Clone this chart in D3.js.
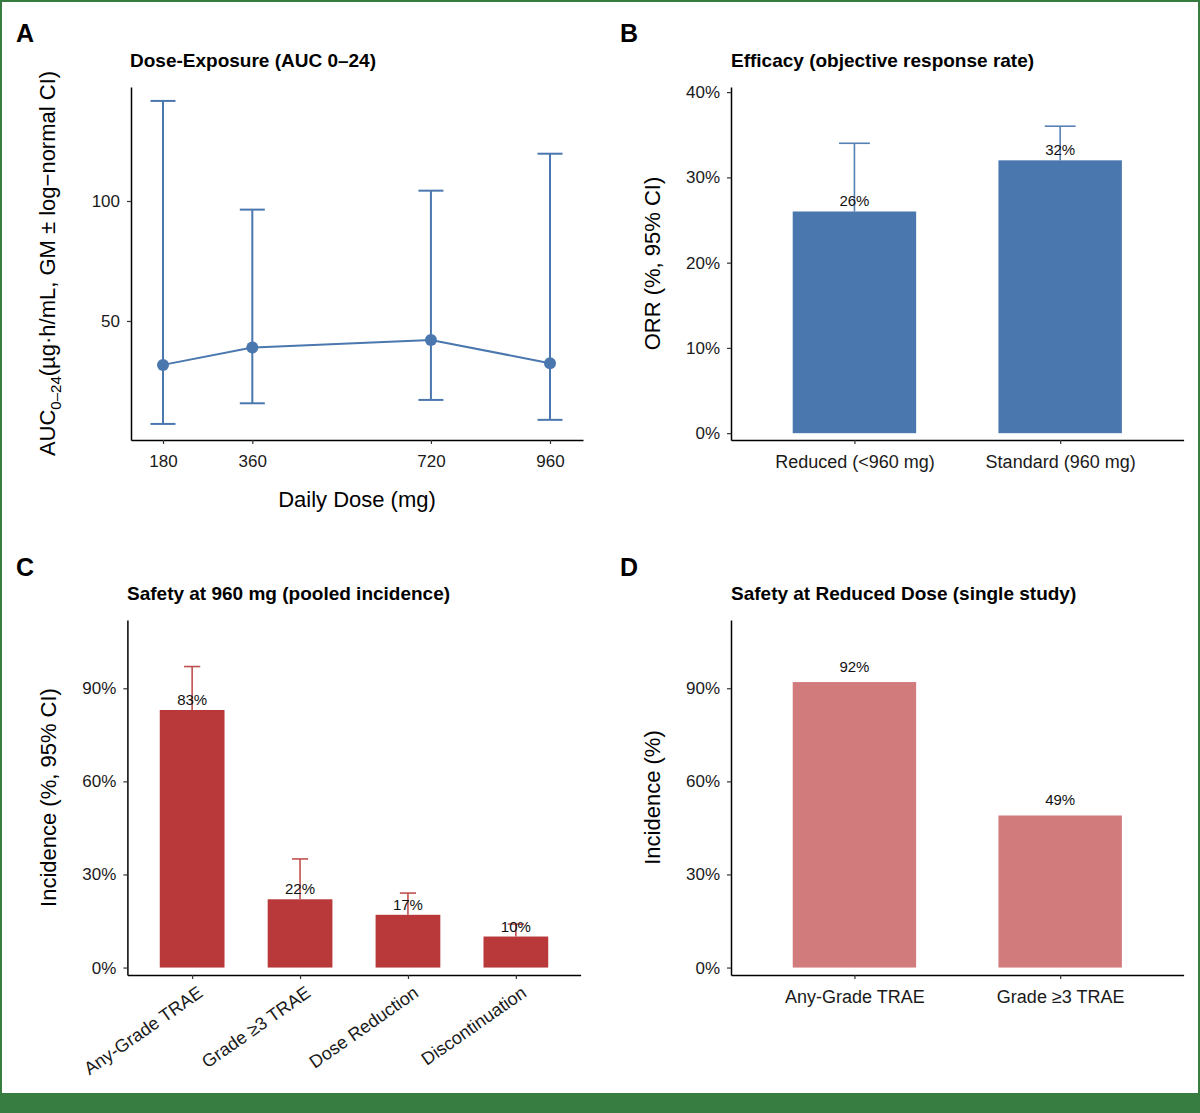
<!DOCTYPE html>
<html>
<head>
<meta charset="utf-8">
<style> body { margin: 0; background: #fff; } </style>
<script src="https://d3js.org/d3.v7.min.js"></script>
</head>
<body>
<div id="chart"></div>
<script>

// A: dose-exposure, geometric mean AUC 0-24 with log-normal CI
var doses = [180, 360, 720, 960];
var aucGM = [31.7, 38.9, 42.1, 32.4];
var aucLow = [7.1, 15.7, 17.1, 8.8];
var aucHigh = [141.7, 96.4, 104.3, 119.7];
var aucTicks = [50, 100];

// B: objective response rate
var orrGroups = ["Reduced (<960 mg)", "Standard (960 mg)"];
var orrRate = [26, 32];
var orrUpper = [34, 36];
var orrTicks = [0, 10, 20, 30, 40];

// C: pooled safety at 960 mg
var pooledCats = ["Any-Grade TRAE", "Grade \u22653 TRAE", "Dose Reduction", "Discontinuation"];
var pooledRate = [83, 22, 17, 10];
var pooledUpper = [97, 35, 24, 14];

// D: safety at reduced dose
var reducedCats = ["Any-Grade TRAE", "Grade \u22653 TRAE"];
var reducedRate = [92, 49];

var incTicks = [0, 30, 60, 90];

var W = 1200, H = 1113;
var FONT = "'Liberation Sans', Arial, Helvetica, sans-serif";
var blue = "#4a77ae", red = "#b9393a", redBar = "#c0504f", pink = "#d27b7c", green = "#377d42";

var svg = d3.select("#chart").append("svg")
    .attr("width", W)
    .attr("height", H)
    .style("font-family", FONT);

svg.append("rect").attr("width", W).attr("height", H).attr("fill", "#fff");
svg.append("rect")
    .attr("x", 1).attr("y", 1)
    .attr("width", W - 2).attr("height", H - 2)
    .attr("fill", "none")
    .attr("stroke", green)
    .attr("stroke-width", 2);
svg.append("rect")
    .attr("x", 0).attr("y", 1093)
    .attr("width", W).attr("height", H - 1093)
    .attr("fill", green);

function styleAxis(g, size) {
    g.attr("font-family", FONT).attr("font-size", size);
    g.select(".domain").attr("stroke", "#000").attr("stroke-width", 1.5);
    g.selectAll(".tick line").attr("stroke", "#333").attr("stroke-width", 1.2);
    g.selectAll(".tick text").attr("fill", "#1a1a1a");
}

function addLetter(t, x, y) {
    svg.append("text")
        .attr("x", x).attr("y", y)
        .attr("font-size", 25)
        .attr("font-weight", "bold")
        .attr("fill", "#000")
        .text(t);
}

function addTitle(t, x, y) {
    svg.append("text")
        .attr("x", x).attr("y", y)
        .attr("font-size", 19)
        .attr("font-weight", "bold")
        .attr("fill", "#000")
        .text(t);
}

function addYTitle(t, x, cy) {
    return svg.append("text")
        .attr("transform", "translate(" + x + "," + cy + ") rotate(-90)")
        .attr("text-anchor", "middle")
        .attr("font-size", 22)
        .attr("fill", "#000")
        .text(t);
}

var pct = function(d) { return d + "%"; };

// ---------------- A ----------------
var xA = d3.scaleLinear().domain([115.5, 1026.5]).range([131, 583]);
var yA = d3.scaleLinear().domain([0.4, 147.5]).range([440, 87]);

svg.append("g")
    .attr("transform", "translate(0,440)")
    .call(d3.axisBottom(xA).tickValues(doses).tickSize(4).tickPadding(11).tickSizeOuter(0))
    .call(styleAxis, 17);
svg.append("g")
    .attr("transform", "translate(131,0)")
    .call(d3.axisLeft(yA).tickValues(aucTicks).tickSize(4).tickPadding(7).tickSizeOuter(0))
    .call(styleAxis, 17);

var ptsA = doses.map(function(d, i) {
    return { dose: d, gm: aucGM[i], lo: aucLow[i], hi: aucHigh[i] };
});

var capA = 12.5;
var ebA = svg.append("g").attr("stroke", blue).attr("stroke-width", 2);
ebA.selectAll(".v").data(ptsA).join("line")
    .attr("x1", d => xA(d.dose)).attr("x2", d => xA(d.dose))
    .attr("y1", d => yA(d.lo)).attr("y2", d => yA(d.hi));
ebA.selectAll(".t").data(ptsA).join("line")
    .attr("x1", d => xA(d.dose) - capA).attr("x2", d => xA(d.dose) + capA)
    .attr("y1", d => yA(d.hi)).attr("y2", d => yA(d.hi));
ebA.selectAll(".b").data(ptsA).join("line")
    .attr("x1", d => xA(d.dose) - capA).attr("x2", d => xA(d.dose) + capA)
    .attr("y1", d => yA(d.lo)).attr("y2", d => yA(d.lo));

svg.append("path")
    .datum(ptsA)
    .attr("fill", "none")
    .attr("stroke", blue)
    .attr("stroke-width", 2)
    .attr("d", d3.line().x(d => xA(d.dose)).y(d => yA(d.gm)));

svg.append("g").selectAll("circle").data(ptsA).join("circle")
    .attr("cx", d => xA(d.dose))
    .attr("cy", d => yA(d.gm))
    .attr("r", 6)
    .attr("fill", blue);

addLetter("A", 16, 42);
addTitle("Dose-Exposure (AUC 0\u201324)", 130, 67);
svg.append("text")
    .attr("x", 357).attr("y", 507)
    .attr("text-anchor", "middle")
    .attr("font-size", 22)
    .attr("fill", "#000")
    .text("Daily Dose (mg)");

var ytA = svg.append("text")
    .attr("transform", "translate(55,263.5) rotate(-90)")
    .attr("text-anchor", "middle")
    .attr("font-size", 22)
    .attr("fill", "#000");
ytA.append("tspan").text("AUC");
ytA.append("tspan").attr("font-size", 15).attr("dy", 6).text("0\u201324");
ytA.append("tspan").attr("dy", -6).text("(\u00b5g\u00b7h/mL, GM \u00b1 log\u2212normal CI)");

// ---------------- bar panel helper ----------------
function barPanel(o) {
    var x = d3.scalePoint().domain(o.cats).range([o.x0, o.x1]).padding(0.6);
    var y = d3.scaleLinear().domain(o.ydom).range([o.yb, o.yt]);
    var bw = x.step() * 0.6;

    var data = o.cats.map(function(c, i) {
        return { cat: c, v: o.vals[i], hi: o.upper ? o.upper[i] : null };
    });

    var gx = svg.append("g")
        .attr("transform", "translate(0," + o.yb + ")")
        .call(d3.axisBottom(x).tickSize(4).tickPadding(11).tickSizeOuter(0))
        .call(styleAxis, 18);
    if (o.rotate) {
        gx.selectAll(".tick text")
            .attr("y", 0).attr("x", 0)
            .attr("dy", "0.71em")
            .attr("text-anchor", "end")
            .attr("transform", "translate(4,10) rotate(-35)");
    }
    svg.append("g")
        .attr("transform", "translate(" + o.x0 + ",0)")
        .call(d3.axisLeft(y).tickValues(o.ticks).tickFormat(pct).tickSize(4).tickPadding(7).tickSizeOuter(0))
        .call(styleAxis, 17);

    svg.append("g").selectAll("rect").data(data).join("rect")
        .attr("x", d => x(d.cat) - bw / 2)
        .attr("width", bw)
        .attr("y", d => y(d.v))
        .attr("height", d => y(0) - y(d.v))
        .attr("fill", o.color);

    if (o.upper) {
        var cap = bw * 0.125;
        var eb = svg.append("g").attr("stroke", o.ebColor).attr("stroke-width", 1.6);
        eb.selectAll(".v").data(data).join("line")
            .attr("x1", d => x(d.cat)).attr("x2", d => x(d.cat))
            .attr("y1", d => y(d.v)).attr("y2", d => y(d.hi));
        eb.selectAll(".c").data(data).join("line")
            .attr("x1", d => x(d.cat) - cap).attr("x2", d => x(d.cat) + cap)
            .attr("y1", d => y(d.hi)).attr("y2", d => y(d.hi));
    }

    svg.append("g").selectAll("text").data(data).join("text")
        .attr("x", d => x(d.cat))
        .attr("y", d => y(d.v) - o.labelGap)
        .attr("text-anchor", "middle")
        .attr("font-size", 15)
        .attr("fill", "#111")
        .text(d => d.v + "%");
}

// ---------------- B ----------------
barPanel({
    cats: orrGroups, vals: orrRate, upper: orrUpper, ticks: orrTicks,
    x0: 731, x1: 1183.6, yb: 440, yt: 87, ydom: [-0.8, 40.6],
    color: blue, ebColor: "#5680b4", labelGap: 5
});
addLetter("B", 620, 42);
addTitle("Efficacy (objective response rate)", 731, 67);
addYTitle("ORR (%, 95% CI)", 660, 263.5);

// ---------------- C ----------------
barPanel({
    cats: pooledCats, vals: pooledRate, upper: pooledUpper, ticks: incTicks,
    x0: 127.4, x1: 580.6, yb: 975, yt: 620, ydom: [-2.4, 112],
    color: red, ebColor: redBar, labelGap: 5, rotate: true
});
addLetter("C", 16, 576);
addTitle("Safety at 960 mg (pooled incidence)", 127, 600);
addYTitle("Incidence (%, 95% CI)", 56, 797.5);

// ---------------- D ----------------
barPanel({
    cats: reducedCats, vals: reducedRate, ticks: incTicks,
    x0: 731, x1: 1183.6, yb: 975, yt: 620, ydom: [-2.4, 112],
    color: pink, labelGap: 10
});
addLetter("D", 620, 576);
addTitle("Safety at Reduced Dose (single study)", 731, 600);
addYTitle("Incidence (%)", 660, 797.5);

</script>
</body>
</html>
